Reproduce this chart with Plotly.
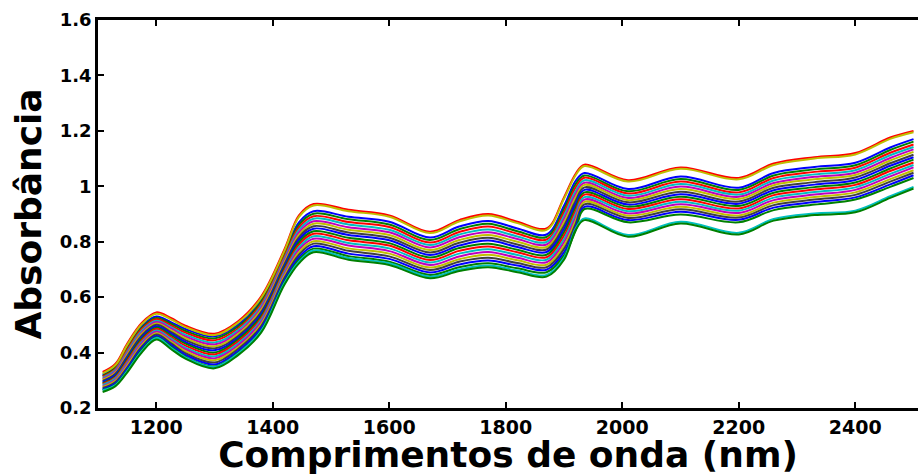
import plotly.graph_objects as go

# Wavelength grid (nm) shared by every spectrum
comprimentos = [1108, 1130, 1150, 1175, 1200, 1225, 1250, 1300, 1340, 1380,
                1420, 1445, 1470, 1530, 1600, 1670, 1720, 1770, 1820, 1870,
                1900, 1920, 1935, 2010, 2100, 2200, 2260, 2330, 2400, 2460, 2500]

# Absorbance spectra of the samples
amostra_01 = [0.320, 0.350, 0.420, 0.495, 0.530, 0.510, 0.485, 0.458, 0.500, 0.590, 0.760, 0.870, 0.910, 0.890, 0.872, 0.815, 0.855, 0.875, 0.848, 0.826, 0.930, 1.020, 1.048, 0.990, 1.035, 0.995, 1.048, 1.070, 1.085, 1.140, 1.170]
amostra_02 = [0.316, 0.346, 0.414, 0.489, 0.525, 0.504, 0.478, 0.451, 0.493, 0.583, 0.753, 0.861, 0.901, 0.881, 0.862, 0.806, 0.845, 0.865, 0.838, 0.817, 0.918, 1.008, 1.039, 0.982, 1.026, 0.987, 1.039, 1.061, 1.076, 1.131, 1.161]
amostra_03 = [0.313, 0.341, 0.409, 0.484, 0.520, 0.498, 0.472, 0.444, 0.486, 0.575, 0.746, 0.852, 0.892, 0.871, 0.853, 0.797, 0.835, 0.855, 0.829, 0.808, 0.906, 0.996, 1.031, 0.974, 1.017, 0.978, 1.030, 1.052, 1.067, 1.121, 1.151]
amostra_04 = [0.309, 0.337, 0.403, 0.478, 0.515, 0.492, 0.465, 0.436, 0.480, 0.568, 0.739, 0.843, 0.883, 0.862, 0.843, 0.788, 0.826, 0.844, 0.819, 0.799, 0.894, 0.984, 1.022, 0.966, 1.008, 0.970, 1.021, 1.043, 1.058, 1.112, 1.142]
amostra_05 = [0.305, 0.333, 0.397, 0.472, 0.510, 0.487, 0.458, 0.429, 0.473, 0.561, 0.732, 0.834, 0.874, 0.852, 0.834, 0.779, 0.816, 0.834, 0.810, 0.790, 0.882, 0.972, 1.013, 0.958, 0.999, 0.962, 1.012, 1.034, 1.049, 1.102, 1.133]
amostra_06 = [0.302, 0.328, 0.392, 0.467, 0.505, 0.481, 0.452, 0.422, 0.466, 0.554, 0.725, 0.825, 0.865, 0.843, 0.824, 0.770, 0.806, 0.824, 0.800, 0.781, 0.870, 0.960, 1.005, 0.950, 0.990, 0.954, 1.004, 1.025, 1.041, 1.093, 1.124]
amostra_07 = [0.298, 0.324, 0.386, 0.461, 0.500, 0.475, 0.445, 0.415, 0.459, 0.546, 0.718, 0.816, 0.856, 0.833, 0.814, 0.761, 0.796, 0.814, 0.790, 0.772, 0.858, 0.948, 0.996, 0.942, 0.980, 0.945, 0.995, 1.015, 1.032, 1.083, 1.114]
amostra_08 = [0.294, 0.320, 0.380, 0.455, 0.495, 0.469, 0.438, 0.408, 0.452, 0.539, 0.711, 0.807, 0.847, 0.824, 0.805, 0.752, 0.786, 0.804, 0.781, 0.763, 0.846, 0.936, 0.987, 0.934, 0.971, 0.937, 0.986, 1.006, 1.023, 1.074, 1.105]
amostra_09 = [0.290, 0.315, 0.375, 0.450, 0.490, 0.463, 0.432, 0.400, 0.446, 0.532, 0.704, 0.798, 0.838, 0.814, 0.795, 0.743, 0.777, 0.793, 0.771, 0.753, 0.834, 0.924, 0.978, 0.926, 0.962, 0.929, 0.977, 0.997, 1.014, 1.064, 1.096]
amostra_10 = [0.287, 0.311, 0.369, 0.444, 0.485, 0.457, 0.425, 0.393, 0.439, 0.524, 0.697, 0.789, 0.829, 0.805, 0.786, 0.734, 0.767, 0.783, 0.762, 0.744, 0.822, 0.912, 0.970, 0.918, 0.953, 0.920, 0.968, 0.988, 1.005, 1.055, 1.086]
amostra_11 = [0.283, 0.307, 0.363, 0.438, 0.480, 0.451, 0.418, 0.386, 0.432, 0.517, 0.690, 0.780, 0.820, 0.795, 0.776, 0.725, 0.757, 0.773, 0.752, 0.735, 0.810, 0.900, 0.961, 0.910, 0.944, 0.912, 0.959, 0.979, 0.996, 1.045, 1.077]
amostra_12 = [0.279, 0.302, 0.358, 0.433, 0.475, 0.445, 0.412, 0.379, 0.425, 0.510, 0.683, 0.771, 0.811, 0.786, 0.766, 0.716, 0.747, 0.763, 0.742, 0.726, 0.798, 0.888, 0.952, 0.902, 0.935, 0.904, 0.950, 0.970, 0.987, 1.036, 1.068]
amostra_13 = [0.276, 0.298, 0.352, 0.427, 0.470, 0.440, 0.405, 0.372, 0.418, 0.502, 0.676, 0.762, 0.802, 0.776, 0.757, 0.707, 0.737, 0.753, 0.733, 0.717, 0.786, 0.876, 0.944, 0.894, 0.926, 0.895, 0.941, 0.961, 0.978, 1.026, 1.058]
amostra_14 = [0.272, 0.294, 0.346, 0.421, 0.465, 0.434, 0.398, 0.364, 0.412, 0.495, 0.669, 0.753, 0.793, 0.767, 0.747, 0.698, 0.728, 0.742, 0.723, 0.708, 0.774, 0.864, 0.935, 0.886, 0.917, 0.887, 0.932, 0.952, 0.969, 1.017, 1.049]
amostra_15 = [0.268, 0.289, 0.341, 0.416, 0.460, 0.428, 0.392, 0.357, 0.405, 0.488, 0.662, 0.744, 0.784, 0.757, 0.738, 0.689, 0.718, 0.732, 0.714, 0.699, 0.762, 0.852, 0.926, 0.878, 0.908, 0.879, 0.923, 0.943, 0.960, 1.007, 1.040]
amostra_16 = [0.265, 0.285, 0.335, 0.410, 0.455, 0.422, 0.385, 0.350, 0.398, 0.480, 0.655, 0.735, 0.775, 0.748, 0.728, 0.680, 0.708, 0.722, 0.704, 0.690, 0.750, 0.840, 0.918, 0.870, 0.898, 0.870, 0.914, 0.934, 0.952, 0.998, 1.030]
amostra_17 = [0.330, 0.360, 0.432, 0.507, 0.545, 0.525, 0.497, 0.468, 0.512, 0.602, 0.772, 0.895, 0.936, 0.915, 0.895, 0.836, 0.878, 0.900, 0.872, 0.848, 0.960, 1.045, 1.078, 1.022, 1.068, 1.030, 1.082, 1.105, 1.120, 1.176, 1.200]
amostra_18 = [0.325, 0.355, 0.427, 0.502, 0.540, 0.520, 0.492, 0.463, 0.507, 0.597, 0.767, 0.890, 0.931, 0.910, 0.890, 0.831, 0.873, 0.895, 0.867, 0.843, 0.955, 1.040, 1.073, 1.017, 1.063, 1.025, 1.077, 1.100, 1.115, 1.171, 1.195]
amostra_19 = [0.264, 0.283, 0.333, 0.405, 0.453, 0.418, 0.383, 0.348, 0.396, 0.478, 0.651, 0.728, 0.768, 0.741, 0.722, 0.674, 0.700, 0.714, 0.696, 0.680, 0.742, 0.848, 0.884, 0.824, 0.872, 0.832, 0.882, 0.902, 0.912, 0.964, 0.998]
amostra_20 = [0.258, 0.279, 0.328, 0.400, 0.447, 0.413, 0.378, 0.343, 0.390, 0.472, 0.645, 0.722, 0.762, 0.735, 0.716, 0.668, 0.694, 0.708, 0.690, 0.674, 0.735, 0.842, 0.878, 0.818, 0.866, 0.826, 0.876, 0.896, 0.906, 0.958, 0.992]

amostras = [amostra_01, amostra_02, amostra_03, amostra_04, amostra_05,
            amostra_06, amostra_07, amostra_08, amostra_09, amostra_10,
            amostra_11, amostra_12, amostra_13, amostra_14, amostra_15,
            amostra_16, amostra_17, amostra_18, amostra_19, amostra_20]

# Classic line colour order (b, g, r, c, m, y, k)
cores = ["#0000FF", "#008000", "#FF0000", "#00BFBF", "#BF00BF", "#BFBF00", "#404040"]
cores_extras = {16: "#FF0000", 17: "#BFBF00", 18: "#00BFBF", 19: "#008000"}

x_ticks = [1200, 1400, 1600, 1800, 2000, 2200, 2400]
y_ticks = [0.2, 0.4, 0.6, 0.8, 1.0, 1.2, 1.4, 1.6]
y_ticktext = ["0.2", "0.4", "0.6", "0.8", "1", "1.2", "1.4", "1.6"]

fig = go.Figure()
for i, espectro in enumerate(amostras):
    cor = cores_extras.get(i, cores[i % len(cores)])
    fig.add_trace(go.Scatter(
        x=comprimentos, y=espectro, mode="lines",
        line=dict(color=cor, width=2.0, shape="spline", smoothing=1.0),
        showlegend=False, hoverinfo="skip",
    ))

fonte = "DejaVu Sans"
fig.update_layout(
    width=918, height=475,
    margin=dict(l=98, r=0, t=20, b=67),
    paper_bgcolor="white", plot_bgcolor="white",
    font=dict(family=fonte, color="black"),
    xaxis=dict(
        range=[1100, 2507.7], tickvals=x_ticks,
        ticks="inside", ticklen=6, tickwidth=2, tickcolor="black",
        showline=True, linecolor="black", linewidth=2.5, mirror="ticks",
        showgrid=False, zeroline=False,
        tickfont=dict(family=fonte, size=19, color="black", weight="bold"),
        title=dict(text="<b>Comprimentos de onda (nm)</b>",
                   font=dict(family=fonte, size=36, color="black"), standoff=2),
    ),
    yaxis=dict(
        range=[0.2, 1.6], tickvals=y_ticks, ticktext=y_ticktext,
        ticks="inside", ticklen=6, tickwidth=2, tickcolor="black",
        showline=True, linecolor="black", linewidth=2.5,
        showgrid=False, zeroline=False,
        tickfont=dict(family=fonte, size=18, color="black", weight="bold"),
        title=dict(text="<b>Absorbância</b>",
                   font=dict(family=fonte, size=36, color="black"), standoff=8),
    ),
)

fig.write_html("out.html")
